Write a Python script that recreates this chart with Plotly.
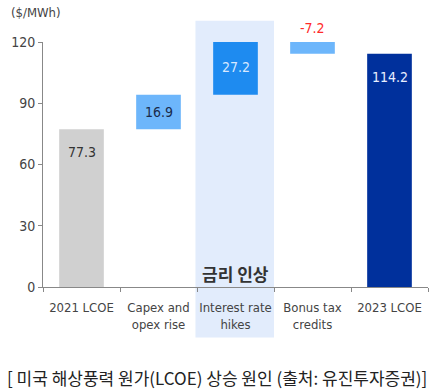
import plotly.graph_objects as go

categories = ["2021 LCOE", "Capex and<br>opex rise", "Interest rate<br>hikes", "Bonus tax<br>credits", "2023 LCOE"]
values = [77.3, 16.9, 27.2, -7.2, 114.2]
measures = ["absolute", "relative", "relative", "relative", "total"]
labels = ["77.3", "16.9", "27.2", "-7.2", "114.2"]
colors = ["#d0d0d0", "#6db6fb", "#1e8bf0", "#6db6fb", "#00309c"]
label_colors = ["#333333", "#1a2a4a", "#d8e8ff", "#ff2a2a", "#e8eeff"]
y_ticks = [0, 30, 60, 90, 120]
y_max = 120

# compute bases and heights from the data
bases, heights = [], []
running = 0.0
for v, m in zip(values, measures):
    if m == "absolute" or m == "total":
        bases.append(0.0)
        heights.append(v)
        running = v
    else:
        if v >= 0:
            bases.append(running)
            heights.append(v)
        else:
            bases.append(running + v)
            heights.append(-v)
        running += v

font_narrow = "DejaVu Sans Condensed, Liberation Sans Narrow, sans-serif"

fig = go.Figure()
fig.add_trace(go.Bar(
    x=categories, y=heights, base=bases,
    marker=dict(color=colors, line=dict(width=0)),
    width=0.58, cliponaxis=False, hoverinfo="skip",
))

annotations = []
for i, (c, v, m) in enumerate(zip(categories, values, measures)):
    top = bases[i] + heights[i]
    if m in ("absolute", "total"):
        annotations.append(dict(x=c, y=top, yshift=-13, yanchor="top", text=labels[i], showarrow=False,
                                font=dict(family=font_narrow, size=14, color=label_colors[i])))
    elif v >= 0:
        annotations.append(dict(x=c, y=bases[i] + heights[i] / 2, yanchor="middle", text=labels[i],
                                showarrow=False,
                                font=dict(family=font_narrow, size=14, color=label_colors[i])))
    else:
        # label above the bar; top exceeds the axis range so use paper fraction of the y scale
        annotations.append(dict(x=c, yref="paper", y=top / y_max, yshift=1, yanchor="bottom",
                                text=labels[i], showarrow=False,
                                font=dict(family=font_narrow, size=14, color=label_colors[i])))

annotations.append(dict(x=categories[2], y=0, yanchor="bottom", yshift=-1, text="<b>금리 인상</b>",
                        showarrow=False, font=dict(family="Noto Sans CJK KR", size=17, color="#333333")))
annotations.append(dict(xref="paper", yref="paper", x=-0.088, y=1.12, xanchor="left", yanchor="middle",
                        text="($/MWh)", showarrow=False,
                        font=dict(family=font_narrow, size=13, color="#444444")))
annotations.append(dict(xref="paper", yref="paper", x=-0.1, y=-0.37, xanchor="left", yanchor="middle",
                        text="[ 미국 해상풍력 원가(LCOE) 상승 원인 (출처: 유진투자증권)]", showarrow=False,
                        font=dict(family="Noto Sans CJK KR", size=17, color="#222222")))

fig.update_layout(
    width=437, height=392,
    margin=dict(l=43, r=9, t=42, b=105),
    paper_bgcolor="white", plot_bgcolor="white",
    showlegend=False,
    annotations=annotations,
    shapes=[dict(type="rect", xref="x", yref="paper", x0=1.48, x1=2.5, y0=-0.206, y1=1.087,
                 fillcolor="#e2ecfc", line=dict(width=0), layer="below")],
    xaxis=dict(type="category", showline=True, linecolor="#888888", linewidth=1,
               ticks="outside", tickson="boundaries", ticklen=4, tickcolor="#888888",
               tickangle=0, automargin=False, ticklabelstandoff=8,
               tickfont=dict(family=font_narrow, size=13, color="#444444"), showgrid=False),
    yaxis=dict(range=[0, y_max], tickvals=y_ticks, showline=True, linecolor="#888888", linewidth=1,
               ticks="outside", ticklen=4, tickcolor="#888888", showgrid=False, zeroline=False,
               automargin=False,
               tickfont=dict(family=font_narrow, size=14, color="#444444")),
)

fig.write_html("out.html", config={"displayModeBar": False},
               post_script="document.body.style.margin='0';")
